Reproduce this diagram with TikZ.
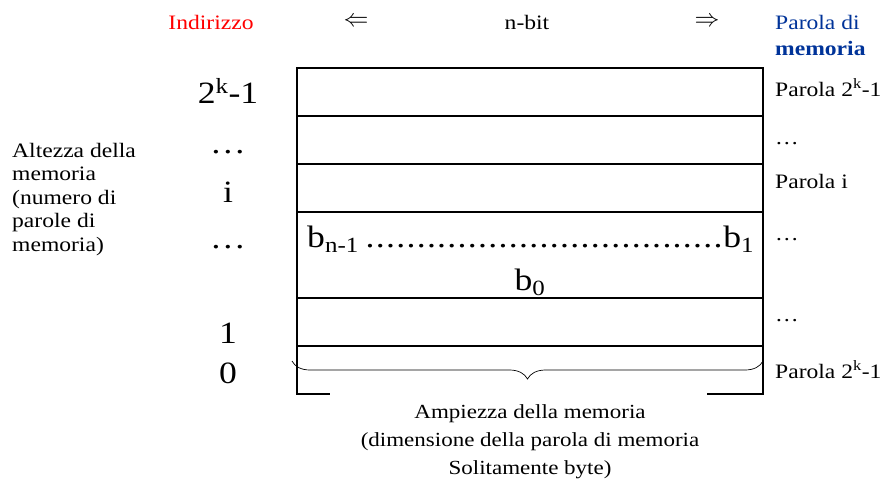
\documentclass[tikz,border=0pt]{standalone}
\usepackage{fontspec}
\setmainfont{Liberation Serif}[FakeStretch=1.15]
\usetikzlibrary{positioning,decorations.pathreplacing}
\definecolor{addrred}{RGB}{255,0,0}
\definecolor{wordblue}{RGB}{0,51,153}

\begin{document}
\begin{tikzpicture}[x=1pt,y=-1pt,
    cell/.style={draw, line width=1.6pt, minimum width=466pt, minimum height=48pt, outer sep=0pt, inner sep=0pt},
    txt/.style={font=\fontsize{20.5}{23.5}\selectfont, inner sep=0pt},
    big/.style={font=\fontsize{31}{36}\selectfont, inner sep=0pt}]
    \useasboundingbox (0,0) rectangle (882,480);

    % header
    \node[txt, text=addrred, anchor=base] (addr) at (211,29) {Indirizzo};
    \node[txt, anchor=base] (nbit) at (527,29) {n-bit};
    \node[font=\fontsize{27}{30}\selectfont, inner sep=0pt] (larr) at (356,22) {$\Leftarrow$};
    \node[font=\fontsize{27}{30}\selectfont, inner sep=0pt] (rarr) at (707,22) {$\Rightarrow$};
    \node[txt, text=wordblue, anchor=base west] (wordhd) at (775,29) {Parola di};
    \node[txt, text=wordblue, anchor=base west, font=\fontsize{20.5}{23.5}\selectfont\bfseries] (wordhd2) at (775,55) {memoria};

    % memory words
    \node[cell] (r1) at (530,92) {};
    \node[cell, below=0pt of r1] (r2) {};
    \node[cell, below=0pt of r2] (r3) {};
    \node[cell, minimum height=86pt, below=0pt of r3] (r4) {};
    \node[cell, below=0pt of r4] (r5) {};
    \coordinate (bl) at ([yshift=-48pt]r5.south west);
    \coordinate (br) at ([yshift=-48pt]r5.south east);
    \draw[line width=1.6pt] (r5.south west) -- (bl);
    \draw[line width=1.6pt] (r5.south east) -- (br);
    \draw[line width=2.6pt] ([xshift=-0.8pt]bl) -- ++(34,0);
    \draw[line width=2.6pt] ([xshift=0.8pt]br) -- ++(-57,0);

    % bits
    \node[big, anchor=base west] (bits) at (307,247) {\hbox to 447pt{b\textsubscript{n-1}\hspace{6pt}\xleaders\hbox to 10pt{\hss.\hss}\hfill b\textsubscript{1}}};
    \node[big, anchor=base] (b0) at (530,290) {b\textsubscript{0}};

    % addresses
    \node[big, anchor=base] (a1) at (228,103) {2\textsuperscript{k}-1};
    \node[big, anchor=base] (a2) at (228,153) {…};
    \node[big, anchor=base] (a3) at (228,202) {i};
    \node[big, anchor=base] (a4) at (228,248) {…};
    \node[big, anchor=base] (a5) at (228,343) {1};
    \node[big, anchor=base] (a6) at (228,383) {0};

    \node[txt, align=left, anchor=base west] (height) at (12,251) {Altezza della\\memoria\\(numero di\\parole di\\memoria)};

    % word labels
    \node[txt, anchor=base west] (w1) at (775,96) {Parola 2\textsuperscript{k}-1};
    \node[txt, anchor=base west] (w2) at (775,144) {…};
    \node[txt, anchor=base west] (w3) at (775,188) {Parola i};
    \node[txt, anchor=base west] (w4) at (775,240) {…};
    \node[txt, anchor=base west] (w5) at (775,321) {…};
    \node[txt, anchor=base west] (w6) at (775,378) {Parola 2\textsuperscript{k}-1};

    % width
    \coordinate (brl) at (292,361);
    \coordinate (brr) at (763,361);
    \draw[decorate, decoration={brace, mirror, amplitude=18pt}, line width=0.7pt] (brl) -- (brr);
    \node[font=\fontsize{20}{28}\selectfont, inner sep=0pt, align=center, anchor=base] (width) at (530,474) {Ampiezza della memoria\\(dimensione della parola di memoria\\Solitamente byte)};
\end{tikzpicture}
\end{document}
